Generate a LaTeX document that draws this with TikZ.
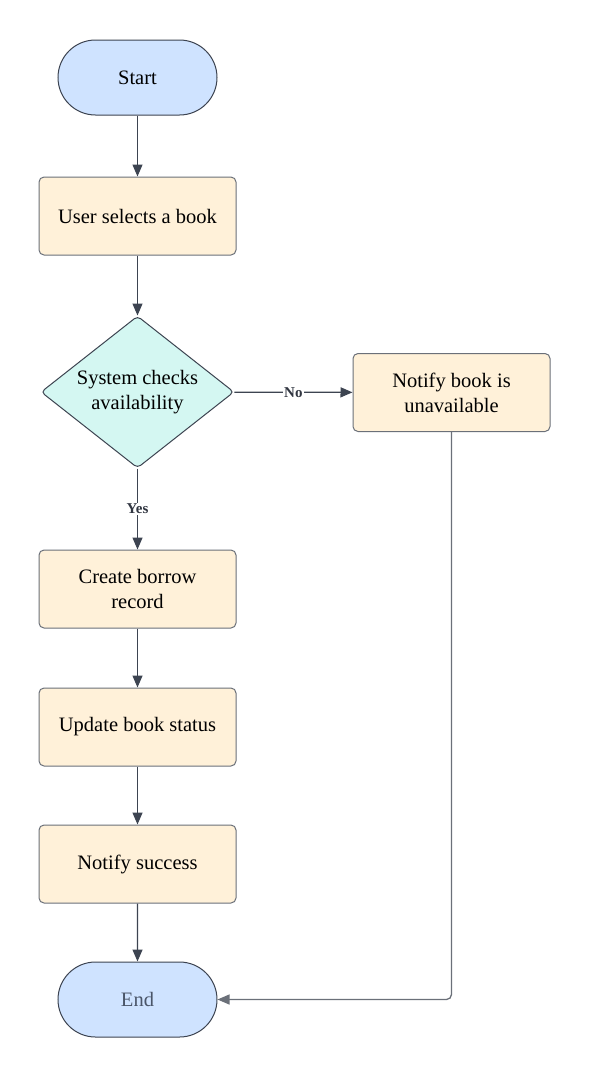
\documentclass[tikz,border=0pt]{standalone}
\usepackage{fontspec}
\setmainfont{Liberation Serif}
\usetikzlibrary{shapes.geometric,shapes.misc,arrows.meta}
\definecolor{termfill}{HTML}{CFE3FF}
\definecolor{procfill}{HTML}{FFF1D9}
\definecolor{decfill}{HTML}{D4F7F2}
\definecolor{edgecol}{HTML}{3D4451}
\definecolor{boxline}{HTML}{6B7079}
\definecolor{endtext}{HTML}{4A5568}
\tikzset{
  base/.style={font=\fontsize{20.5}{25}\selectfont, align=center, line width=1pt},
  term/.style={base, rounded rectangle, draw=edgecol, fill=termfill, minimum width=159pt, minimum height=75pt, inner sep=0pt},
  proc/.style={base, rectangle, rounded corners=5pt, draw=boxline, fill=procfill, minimum width=197pt, minimum height=78pt, inner sep=0pt},
  dec/.style={base, diamond, aspect=1.27, rounded corners=4pt, draw=edgecol, fill=decfill, minimum width=193pt, minimum height=152pt, inner sep=0pt},
  conn/.style={draw=edgecol, line width=1.3pt, -{Triangle[length=12pt,width=10pt]}},
  lbl/.style={font=\fontsize{15}{17}\bfseries\selectfont, text=edgecol!80!black, fill=white, inner sep=1pt}
}
\begin{document}
\begin{tikzpicture}[x=1pt,y=-1pt]
\useasboundingbox[fill=white] (0,0) rectangle (589,1080);
\node[term] (start) at (137.5,77.5) {Start};
\node[proc] (select) at (137.5,216) {User selects a book};
\node[dec] (check) at (137.5,392) {System checks\\availability};
\node[proc] (unavail) at (451.5,392.5) {Notify book is\\unavailable};
\node[proc] (create) at (137.5,589) {Create borrow\\record};
\node[proc] (update) at (137.5,727) {Update book status};
\node[proc] (success) at (137.5,864) {Notify success};
\node[term, text=endtext] (end) at (137.5,999.5) {End};
\draw[conn] (start) -- (select);
\draw[conn] (select) -- (check);
\draw[conn] (check) -- node[lbl] {No} (unavail);
\draw[conn] (check) -- node[lbl] {Yes} (create);
\draw[conn] (create) -- (update);
\draw[conn] (update) -- (success);
\draw[conn] (success) -- (end);
\draw[conn, draw=boxline, rounded corners=5pt] (unavail.south) |- (end.east);
\end{tikzpicture}
\end{document}
